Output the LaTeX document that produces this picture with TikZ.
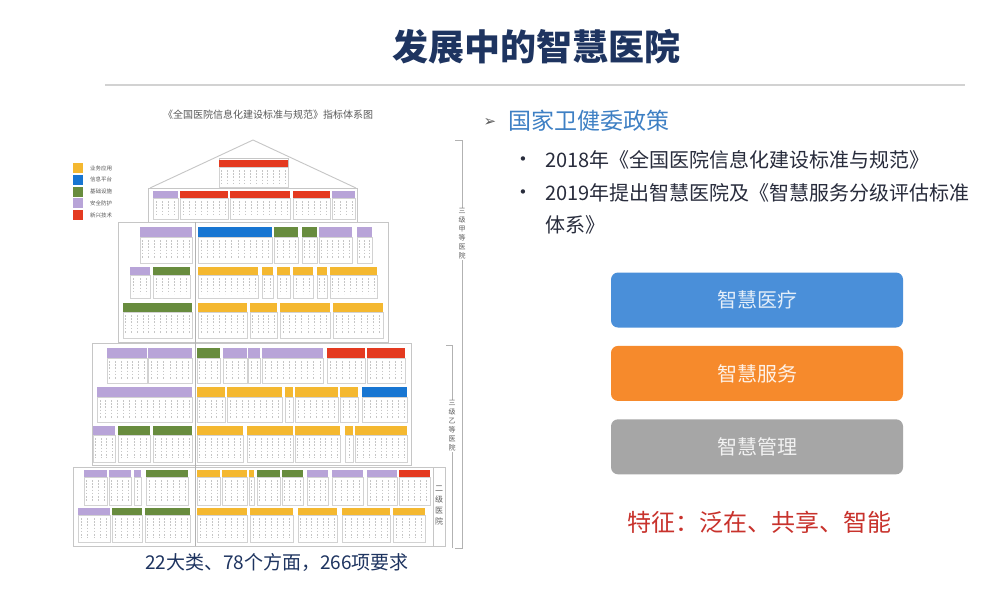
\documentclass[tikz,border=0pt]{standalone}
\usepackage{fontspec}
\setmainfont{Noto Sans CJK SC}
\newfontfamily\dingfont{DejaVu Sans}
\usetikzlibrary{positioning}

\definecolor{titleblue}{RGB}{30,52,96}
\definecolor{headblue}{RGB}{62,128,196}
\definecolor{bodytext}{RGB}{40,44,60}
\definecolor{hyY}{RGB}{244,184,48}
\definecolor{hyB}{RGB}{24,118,210}
\definecolor{hyG}{RGB}{104,140,62}
\definecolor{hyP}{RGB}{184,164,216}
\definecolor{hyR}{RGB}{228,58,32}
\definecolor{boxblue}{RGB}{74,143,217}
\definecolor{boxorange}{RGB}{246,138,44}
\definecolor{boxgray}{RGB}{166,166,166}
\definecolor{redtext}{RGB}{200,50,44}

\tikzset{
  cellframe/.style={draw=gray!35, line width=0.5pt},
  glyphs/.style={gray!45, line width=0.9pt, dash pattern=on 1.6pt off 1.6pt},
  tierframe/.style={draw=gray!45, line width=0.9pt},
  bracket/.style={gray!60, line width=0.8pt},
  tile/.style={rounded corners=7pt, minimum width=292pt, minimum height=55pt,
    inner sep=0pt, font=\fontsize{20}{24}\selectfont},
  legendtext/.style={anchor=west, inner sep=0pt, text=gray!70!black,
    font=\fontsize{5.5}{6}\selectfont},
  tierlabel/.style={fill=white, inner sep=1pt, align=center, text=gray!75!black,
    font=\fontsize{7}{9}\selectfont},
  bulletdot/.style={font=\dingfont\fontsize{15}{16}\selectfont, text=bodytext},
  bullettext/.style={anchor=west, font=\fontsize{20}{24}\selectfont, text=bodytext}
}

% one row of coloured headers with their cells: top, bar bottom, cell bottom, xa/xb/colour
\newcommand\hdrrow[4]{%
  \foreach \xa/\xb/\cc in {#4}{
    \fill[\cc] (\xa,#1) rectangle (\xb,#2);
    \draw[cellframe] (\xa,#2) rectangle (\xb,#3);
    \pgfmathtruncatemacro\nn{max(1,round((\xb-\xa)/6))}
    \foreach \k in {1,...,\nn}{
      \pgfmathsetmacro\xx{\xa+(\k-0.5)*(\xb-\xa)/\nn}
      \draw[glyphs] (\xx,#2+3) -- (\xx,#3-4);
    }
  }}

\begin{document}
\begin{tikzpicture}[x=1pt,y=-1pt]
\fill[white] (0,0) rectangle (1000,592);
\useasboundingbox (0,0) rectangle (1000,592);

\node[font=\fontsize{36}{40}\selectfont\bfseries, text=titleblue] (title) at (536,47) {发展中的智慧医院};
\draw[gray!35, line width=1.5pt] (105,85) -- (965,85);

% pyramid
\node[font=\fontsize{10}{12}\selectfont, text=gray!70!black] (cap) at (268,115) {《全国医院信息化建设标准与规范》指标体系图};
\foreach \cc/\lab [count=\i] in {hyY/业务应用,hyB/信息平台,hyG/基础设施,hyP/安全防护,hyR/新兴技术}{
  \fill[\cc] (73,{163+11.75*(\i-1)}) rectangle ++(10,10);
  \node[legendtext] (leg\i) at (90,{168+11.75*(\i-1)}) {\lab};
}
\draw[tierframe] (150,188) -- (253,140) -- (356,188);
\draw[tierframe] (219,158) rectangle (288,188);
\draw[tierframe] (148,188) rectangle (357,222);
\draw[tierframe] (118,222) rectangle (388,342);
\draw[tierframe] (92,343) rectangle (411,465);
\draw[tierframe] (73,467) rectangle (433,546);
\draw[gray!60, line width=0.8pt] (195,222) -- (195,546);

\hdrrow{160}{167}{187}{219/288/hyR}
\hdrrow{191}{198}{219}{153/178/hyP,180/228/hyR,230/290/hyR,293/330/hyR,332/355/hyP}
\hdrrow{227}{237}{263}{140/192/hyP,198/272/hyB,274/298/hyG,302/317/hyG,319/352/hyP,357/372/hyP}
\hdrrow{267}{275}{298}{130/150/hyP,153/190/hyG,198/258/hyY,262/273/hyY,277/290/hyY,293/313/hyY,317/327/hyY,330/377/hyY}
\hdrrow{303}{312}{338}{123/192/hyG,198/247/hyY,250/277/hyY,280/330/hyY,333/383/hyY}
\hdrrow{348}{358}{383}{107/147/hyP,148/192/hyP,197/220/hyG,223/247/hyP,248/260/hyP,262/323/hyP,327/365/hyR,367/405/hyR}
\hdrrow{387}{397}{422}{97/192/hyP,197/225/hyY,227/282/hyY,285/293/hyY,295/338/hyY,340/358/hyY,362/407/hyB}
\hdrrow{426}{435}{462}{93/115/hyP,118/150/hyG,153/192/hyG,197/243/hyY,247/293/hyY,295/340/hyY,345/353/hyY,355/407/hyY}
\hdrrow{470}{477}{505}{84/107/hyP,109/131/hyP,134/141/hyP,146/188/hyG,197/220/hyY,222/247/hyY,249/254/hyY,257/280/hyG,282/303/hyG,307/328/hyP,332/363/hyP,367/397/hyP,399/430/hyR}
\hdrrow{508}{515}{542}{78/110/hyP,112/142/hyG,145/190/hyG,197/247/hyY,250/293/hyY,298/337/hyY,342/390/hyY,393/425/hyY}

\draw[bracket] (455,140) -- (462,140) -- (462,548) -- (455,548);
\draw[bracket] (446,345) -- (452,345) -- (452,548);
\draw[tierframe] (433,467) rectangle (445,546);
\node[tierlabel] (lvA) at (462,234) {三\\级\\甲\\等\\医\\院};
\node[tierlabel] (lvB) at (452,426) {三\\级\\乙\\等\\医\\院};
\node[tierlabel, font=\fontsize{8}{11}\selectfont] (lvC) at (439,506) {二\\级\\医\\院};

\node[font=\fontsize{19}{22}\selectfont, text=titleblue] (count) at (277,562) {22大类、78个方面，266项要求};

% policy text
\node[font=\dingfont\fontsize{15}{16}\selectfont, text=gray!70!black] (arr) at (490,122) {➢};
\node[anchor=west, font=\fontsize{23}{26}\selectfont, text=headblue] (policy) at (505,121) {国家卫健委政策};
\node[bulletdot] (b1) at (523,161) {•};
\node[bullettext] (t1) at (542,160) {2018年《全国医院信息化建设标准与规范》};
\node[bulletdot] (b2) at (523,194) {•};
\node[bullettext] (t2) at (542,193) {2019年提出智慧医院及《智慧服务分级评估标准};
\node[bullettext] (t3) at (542,225) {体系》};

% three tiles
\node[tile, fill=boxblue, text=white!85!boxblue] (care) at (757,300) {智慧医疗};
\node[tile, fill=boxorange, text=white!88!boxorange, below=18pt of care] (service) {智慧服务};
\node[tile, fill=boxgray, text=white!85!boxgray, below=18pt of service] (manage) {智慧管理};

\node[font=\fontsize{24}{28}\selectfont, text=redtext] (trait) at (759,522) {特征：泛在、共享、智能};
\end{tikzpicture}
\end{document}
